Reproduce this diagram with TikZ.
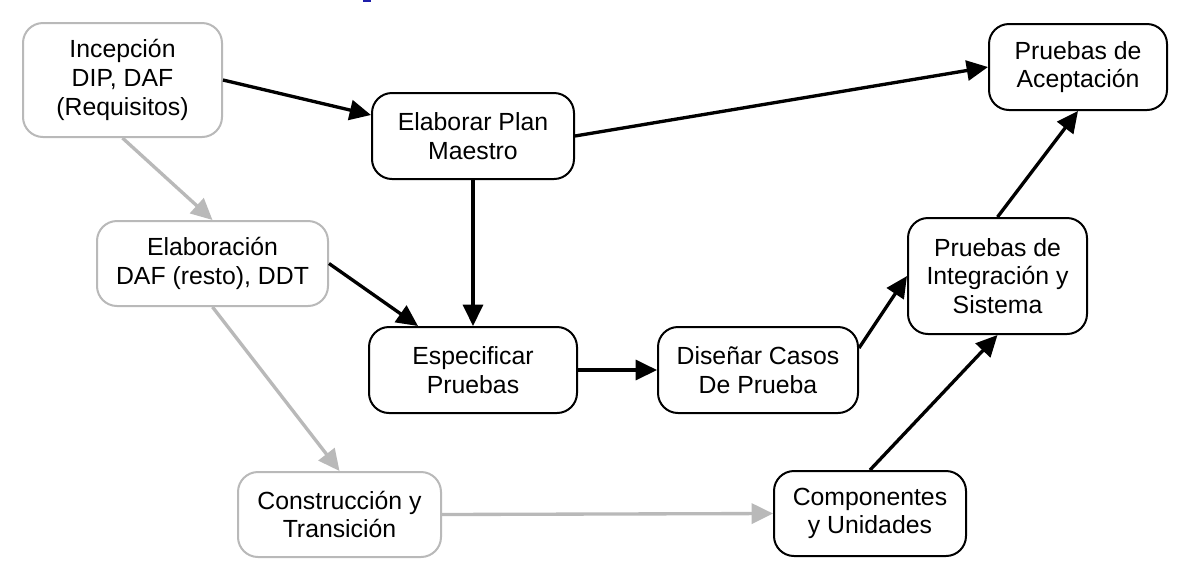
\documentclass[tikz,border=0pt]{standalone}
\usepackage{fontspec}
\setmainfont{Liberation Sans}
\usetikzlibrary{arrows.meta}
\definecolor{lgray}{RGB}{185,185,185}
\definecolor{markblue}{RGB}{30,30,170}
\begin{document}
\begin{tikzpicture}[x=0.75pt,y=-0.75pt,
  box/.style={draw, line width=1.5pt, rounded corners=15pt, align=center,
    font=\fontsize{18.6}{21.5}\selectfont, inner sep=0pt, fill=white},
  oldbox/.style={box, draw=lgray},
  flow/.style={line width=2.5pt, -{Triangle[length=16pt,width=15pt]}},
  oldflow/.style={flow, draw=lgray, color=lgray}]
\useasboundingbox[fill=white] (0,0) rectangle (1204,587);
\fill[markblue] (363,0) rectangle (371,2);

\node[oldbox, minimum width=149.25pt, minimum height=85.5pt] (A) at (122.5,80) {Incepción\\DIP, DAF\\(Requisitos)};
\node[box, minimum width=151.5pt, minimum height=64.5pt] (B) at (473,136) {Elaborar Plan\\Maestro};
\node[box, minimum width=133.5pt, minimum height=64.5pt] (C) at (1078,67) {Pruebas de\\Aceptación};
\node[oldbox, minimum width=173.25pt, minimum height=63.75pt] (D) at (212.5,263.5) {Elaboración\\DAF (resto), DDT};
\node[box, minimum width=156pt, minimum height=64.5pt] (E) at (473,370) {Especificar\\Pruebas};
\node[box, minimum width=150pt, minimum height=64.5pt] (F) at (758,370) {Diseñar Casos\\De Prueba};
\node[box, minimum width=134.25pt, minimum height=87pt] (G) at (997.5,276) {Pruebas de\\Integración y\\Sistema};
\node[oldbox, minimum width=152.25pt, minimum height=63.75pt] (H) at (339.5,514.5) {Construcción y\\Transición};
\node[box, minimum width=144pt, minimum height=63.75pt] (I) at (870,513.5) {Componentes\\y Unidades};

\draw[oldflow] (A.south) -- (D.north);
\draw[oldflow] (D.south) -- (H.north);
\draw[oldflow] (H.east) -- (I.west);

\draw[flow] (A.east) -- ([shift={(0,-21)}]B.west);
\draw[flow] (B.east) -- (C.west);
\draw[flow] (B.south) -- (E.north);
\draw[flow] (D.east) -- ([shift={(-55,0)}]E.north);
\draw[flow] (E.east) -- (F.west);
\draw[flow] ([shift={(0,-22)}]F.east) -- (G.west);
\draw[flow] (I.north) -- (G.south);
\draw[flow] (G.north) -- (C.south);
\end{tikzpicture}
\end{document}
